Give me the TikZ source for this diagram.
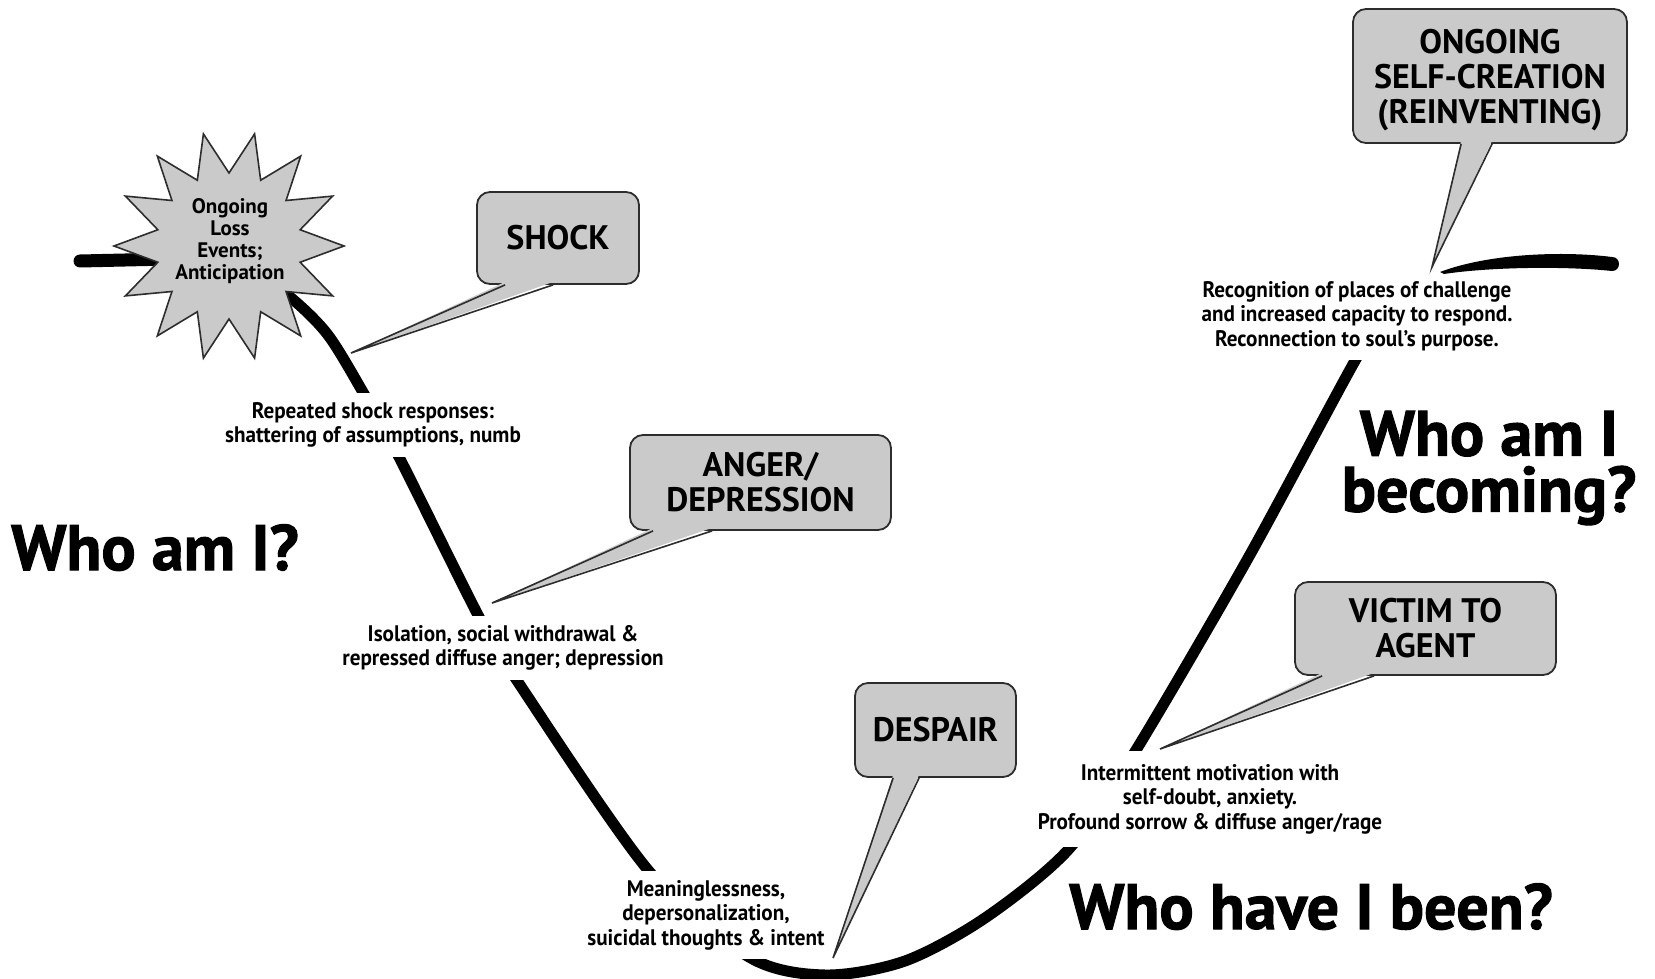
\documentclass[tikz,border=0pt]{standalone}
\usepackage{fontspec}
\setmainfont{PT Sans}
\newfontfamily\heavyfont[BoldFeatures={FakeBold=1.6}]{PT Sans}
\newfontfamily\notefont[FakeStretch=0.94]{PT Sans}
\usetikzlibrary{calc}
\definecolor{bubblegray}{RGB}{202,202,202}
\definecolor{edgegray}{RGB}{45,45,45}
\begin{document}
\begin{tikzpicture}[x=1pt,y=-1pt,
  curve/.style={line width=11pt, line join=round},
  bubble/.style={draw=edgegray, line width=1.8pt, fill=bubblegray, rounded corners=13pt,
    align=center, inner sep=0pt, font=\fontsize{34}{35}\selectfont\bfseries},
  tailfill/.style={fill=bubblegray},
  tailline/.style={draw=edgegray, line width=1.6pt, line join=miter},
  note/.style={fill=white, align=center, inner xsep=4pt, inner ysep=9pt,
    font=\notefont\fontsize{22.5}{24.5}\selectfont\bfseries},
  big/.style={align=center, inner sep=0pt, font=\heavyfont\fontsize{64}{56}\selectfont\bfseries},
  burststyle/.style={draw=edgegray, line width=1.6pt, fill=bubblegray, line join=miter},
]
\useasboundingbox (0,0) rectangle (1655,979);

% left stub
\draw[line width=13pt, line cap=round] (80,261) -- (170,259);

% main curve
\draw[curve] plot[smooth, tension=0.5] coordinates {
  (240,262) (290,297) (328,335) (364,394) (398,455) (479,617) (514,676)
  (648,870) (749,957) (825,975) (905,961) (985,918) (1068,850)
  (1133,755) (1247,560) (1356,359) (1395,300)};

% notes on the curve
\node[note] (n1) at (373,425) {Repeated shock responses:\\shattering of assumptions, numb};
\node[note] (n2) at (503,648) {Isolation, social withdrawal \&\\repressed diffuse anger; depression};
\node[note] (n3) at (706,915) {Meaninglessness,\\depersonalization,\\suicidal thoughts \& intent};
\node[note, inner ysep=13pt] (n4) at (1210,799) {Intermittent motivation with\\self-doubt, anxiety.\\Profound sorrow \& diffuse anger/rage};
\node[note] (n5) at (1357,316) {Recognition of places of challenge\\and increased capacity to respond.\\Reconnection to soul’s purpose.};

% starburst
\draw[burststyle] (229+115,246)
  \foreach \k in {1,...,27} {
    -- ({229+ifthenelse(mod(\k,2)==0,115,73)*cos(\k*360/28)},
        {246+ifthenelse(mod(\k,2)==0,115,73)*sin(\k*360/28)})
  } -- cycle;
\node[align=center, inner sep=0pt, font=\fontsize{21}{22}\selectfont\bfseries] (burst) at (230,241)
  {Ongoing\\Loss\\Events;\\Anticipation};

% right stroke
\fill (1440,272) .. controls (1490,253) and (1565,251) .. (1612,257)
  to[out=0,in=0,looseness=1.7] (1612,271)
  .. controls (1565,266) and (1490,267) .. (1444,274) -- cycle;

% bubbles
\node[bubble, minimum width=162pt, minimum height=92pt] (shock) at (558,238) {SHOCK};
\node[bubble, minimum width=261pt, minimum height=95pt] (anger) at (760.5,482.5) {ANGER/\\DEPRESSION};
\node[bubble, minimum width=161pt, minimum height=94pt] (despair) at (935.5,730) {DESPAIR};
\node[bubble, minimum width=261pt, minimum height=93pt] (victim) at (1425.5,628.5) {VICTIM TO\\AGENT};
\node[bubble, minimum width=274pt, minimum height=134pt, text depth=0pt] (ongoing) at (1490,76) {ONGOING\\SELF-CREATION\\(REINVENTING)};

% tail tips
\coordinate (tS) at (351,353);
\coordinate (tA) at (492,603);
\coordinate (tD) at (833,958);
\coordinate (tV) at (1160,749);
\coordinate (tO) at (1432,267);

% tails
\foreach \b/\t/\l/\r in {shock/tS/29/77, anger/tA/24/83, despair/tD/39/65, victim/tV/28/80, ongoing/tO/109/140}{
  \fill[tailfill] ($(\b.south west)+(\l,-3)$) -- (\t) -- ($(\b.south west)+(\r,-3)$) -- cycle;
  \draw[tailline] ($(\b.south west)+(\l,0)$) -- (\t) -- ($(\b.south west)+(\r,0)$);
}

% big questions
\node[big, anchor=base] (whoami) at (155,570) {Who am I?};
\node[big] (becoming) at (1489,468) {Who am I\\becoming?};
\node[big, anchor=base] (been) at (1311,929) {Who have I been?};
\end{tikzpicture}
\end{document}
